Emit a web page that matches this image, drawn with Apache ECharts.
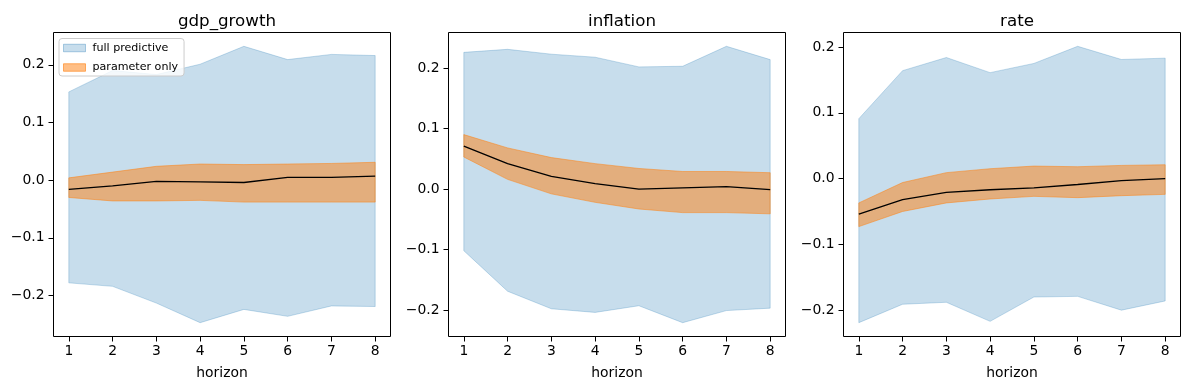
<!DOCTYPE html>
<html><head><meta charset="utf-8">
<script src="https://cdn.jsdelivr.net/npm/echarts@6/dist/echarts.min.js"></script>
<style>html,body{margin:0;padding:0;background:#fff}#c{width:1189px;height:390px}</style>
</head><body><div id="c"></div>
<script>
const horizons = [1, 2, 3, 4, 5, 6, 7, 8];
const panelTitles = ['gdp_growth', 'inflation', 'rate'];
const yTicks = [-0.2, -0.1, 0.0, 0.1, 0.2];

const gdpFullLo  = [-0.178, -0.184, -0.213, -0.247, -0.224, -0.236, -0.218, -0.219];
const gdpFullHi  = [0.153, 0.190, 0.183, 0.201, 0.232, 0.209, 0.218, 0.216];
const gdpParamLo = [-0.030, -0.036, -0.036, -0.035, -0.038, -0.038, -0.038, -0.038];
const gdpParamHi = [0.004, 0.014, 0.024, 0.028, 0.027, 0.028, 0.029, 0.031];
const gdpMedian  = [-0.016, -0.010, -0.002, -0.003, -0.004, 0.005, 0.005, 0.007];

const infFullLo  = [-0.102, -0.169, -0.198, -0.204, -0.193, -0.221, -0.201, -0.197];
const infFullHi  = [0.226, 0.231, 0.223, 0.218, 0.202, 0.203, 0.236, 0.214];
const infParamLo = [0.053, 0.016, -0.008, -0.022, -0.033, -0.039, -0.039, -0.041];
const infParamHi = [0.090, 0.068, 0.052, 0.042, 0.034, 0.029, 0.029, 0.027];
const infMedian  = [0.071, 0.042, 0.021, 0.009, 0.000, 0.002, 0.004, -0.001];

const rateFullLo  = [-0.219, -0.191, -0.188, -0.217, -0.180, -0.179, -0.200, -0.186];
const rateFullHi  = [0.091, 0.164, 0.184, 0.161, 0.175, 0.201, 0.181, 0.183];
const rateParamLo = [-0.073, -0.050, -0.037, -0.031, -0.027, -0.029, -0.026, -0.024];
const rateParamHi = [-0.037, -0.006, 0.009, 0.015, 0.019, 0.018, 0.020, 0.021];
const rateMedian  = [-0.054, -0.032, -0.021, -0.017, -0.014, -0.009, -0.003, 0.000];

const panels = [
  {fullLo: gdpFullLo, fullHi: gdpFullHi, parLo: gdpParamLo, parHi: gdpParamHi, med: gdpMedian},
  {fullLo: infFullLo, fullHi: infFullHi, parLo: infParamLo, parHi: infParamHi, med: infMedian},
  {fullLo: rateFullLo, fullHi: rateFullHi, parLo: rateParamLo, parHi: rateParamHi, med: rateMedian}
];

const FONT = 'DejaVu Sans';
const gridLefts = [53.5, 448.5, 843.5];
const gridW = 337, gridTop = 32.5, gridH = 304;
const blueFill = 'rgba(31,119,180,0.25)';
const orangeFill = 'rgba(255,127,14,0.5)';

const grids = [], xAxes = [], yAxes = [], series = [], titles = [];
const fmt = v => (Math.abs(v) < 1e-9 ? '0.0' : v.toFixed(1).replace('-', '\u2212'));

function bandSeries(name, i, lo, hi, color, z) {
  return {
    type: 'custom', name: name, xAxisIndex: i, yAxisIndex: i, z: z, silent: true,
    data: horizons.map((h, k) => [h, lo[k], hi[k]]),
    encode: {x: 0, y: [1, 2]},
    itemStyle: {color: color},
    renderItem: function (params, api) {
      if (params.dataIndex !== 0) return null;
      const up = horizons.map((h, k) => api.coord([h, hi[k]]));
      const dn = horizons.map((h, k) => api.coord([h, lo[k]]));
      const poly = up.concat(dn.slice().reverse());
      return {
        type: 'group',
        children: [
          {type: 'polygon', shape: {points: poly}, style: {fill: color, stroke: color, lineWidth: 1}}
        ]
      };
    }
  };
}

panels.forEach((p, i) => {
  grids.push({left: gridLefts[i], top: gridTop, width: gridW, height: gridH,
    show: true, borderColor: '#000', borderWidth: 1, backgroundColor: 'transparent', containLabel: false});
  const all = p.fullLo.concat(p.fullHi, p.parLo, p.parHi, p.med);
  const mn = Math.min(...all), mx = Math.max(...all), m = (mx - mn) * 0.05;
  xAxes.push({type: 'value', gridIndex: i, min: 0.65, max: 8.35,
    splitLine: {show: false}, axisLine: {show: false, onZero: false},
    axisTick: {show: true, length: 5, lineStyle: {color: '#000'}, customValues: horizons},
    axisLabel: {show: true, margin: 8, color: '#000', fontFamily: FONT, fontSize: 13.9, customValues: horizons,
      formatter: v => String(v)},
    name: 'horizon', nameLocation: 'middle', nameGap: 30,
    nameTextStyle: {color: '#000', fontFamily: FONT, fontSize: 13.9}});
  yAxes.push({type: 'value', gridIndex: i, min: mn - m, max: mx + m,
    splitLine: {show: false}, axisLine: {show: false, onZero: false},
    axisTick: {show: true, length: 5, lineStyle: {color: '#000'}, customValues: yTicks},
    axisLabel: {show: true, margin: 9, color: '#000', fontFamily: FONT, fontSize: 13.9, customValues: yTicks,
      formatter: v => fmt(v)}});
  titles.push({text: panelTitles[i], left: gridLefts[i] + gridW / 2, top: 8, textAlign: 'center',
    textStyle: {color: '#000', fontFamily: FONT, fontSize: 16.7, fontWeight: 'normal'}});
  series.push(bandSeries('full predictive', i, p.fullLo, p.fullHi, blueFill, 1));
  series.push(bandSeries('parameter only', i, p.parLo, p.parHi, orangeFill, 2));
  series.push({type: 'line', name: 'median-' + i, xAxisIndex: i, yAxisIndex: i, symbol: 'none', showSymbol: false,
    silent: true, data: horizons.map((h, k) => [h, p.med[k]]),
    lineStyle: {color: '#000', width: 1.3}, itemStyle: {color: '#000'}, z: 3});
});

const chart = echarts.init(document.getElementById('c'), null, {renderer: 'canvas'});
chart.setOption({
  animation: false,
  backgroundColor: '#fff',
  title: titles,
  grid: grids, xAxis: xAxes, yAxis: yAxes, series: series,
  legend: {
    orient: 'vertical', left: 59, top: 38.5,
    data: [
      {name: 'full predictive', icon: 'rect', itemStyle: {color: 'rgba(31,119,180,0.25)', borderColor: 'rgba(31,119,180,0.35)', borderWidth: 1}},
      {name: 'parameter only', icon: 'rect', itemStyle: {color: 'rgba(255,127,14,0.5)', borderColor: 'rgba(255,127,14,0.6)', borderWidth: 1}}
    ],
    itemWidth: 22, itemHeight: 7.5, itemGap: 8.5,
    padding: [4, 6, 3, 4],
    backgroundColor: 'rgba(255,255,255,0.8)', borderColor: '#cccccc', borderWidth: 1, borderRadius: 3,
    textStyle: {color: '#000', fontFamily: FONT, fontSize: 11.1, padding: [0, 0, 0, 2]},
    selectedMode: false
  }
});
</script>
</body></html>
